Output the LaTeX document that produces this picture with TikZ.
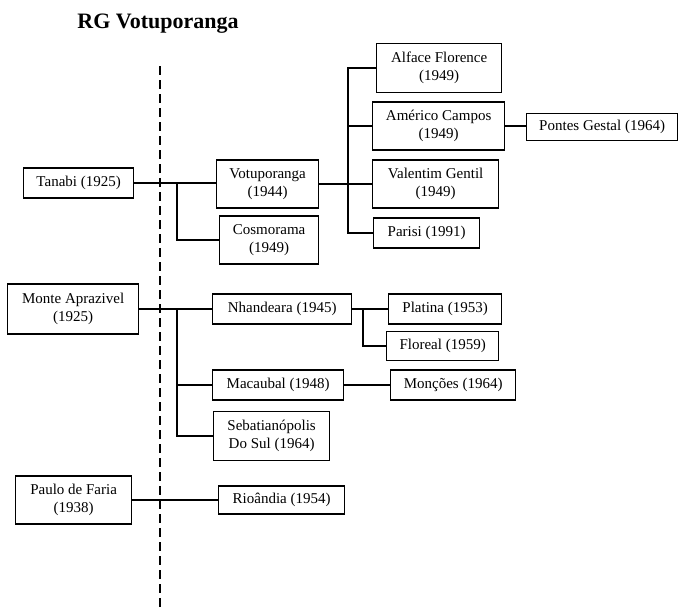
\documentclass[tikz,border=0pt]{standalone}
\usepackage{fontspec}
\setmainfont{Liberation Serif}
\usetikzlibrary{positioning,calc}

\tikzset{
  town/.style={draw, line width=1.3pt, align=center, inner sep=0pt, anchor=west,
    font=\fontsize{15}{18}\selectfont},
  link/.style={line width=1.1pt},
}

\begin{document}
\begin{tikzpicture}[x=1pt,y=-1pt]
\useasboundingbox (0,0) rectangle (678,608);

\node[font=\bfseries\fontsize{22}{26}\selectfont] (title) at (158,24) {RG Votuporanga};

% divide
\draw[line width=1.4pt, dash pattern=on 9pt off 5pt] (160,66) -- (160,608);

% municipalities: name / left x / mid y / width / height / label
\foreach \n/\x/\y/\w/\h/\t in {
  tan/23/183/110/30/{Tanabi (1925)},
  vot/216/184/102/48/{Votuporanga\\(1944)},
  cos/219/240/99/48/{Cosmorama\\(1949)},
  alf/376/68/125/49/{Alface Florence\\(1949)},
  ame/372/126/132/48/{Américo Campos\\(1949)},
  pon/526/127/151/27/{Pontes Gestal (1964)},
  val/372/184/126/48/{Valentim Gentil\\(1949)},
  par/373/233/106/30/{Parisi (1991)},
  mon/7/309/131/50/{Monte Aprazivel\\(1925)},
  nha/212/309/139/30/{Nhandeara (1945)},
  pla/388/309/113/30/{Platina (1953)},
  flo/386/346/112/29/{Floreal (1959)},
  mac/212/385/131/30/{Macaubal (1948)},
  mcs/390/385/125/30/{Monções (1964)},
  seb/213/436/116/49/{Sebatianópolis\\Do Sul (1964)},
  pau/15/500/116/48/{Paulo de Faria\\(1938)},
  rio/218/500/126/28/{Rioândia (1954)}}
  \node[town, minimum width=\w pt, minimum height=\h pt] (\n) at (\x,\y) {\t};

% Tanabi
\coordinate (b1) at (177,183);
\draw[link] (tan.east) -- (tan.east -| vot.west);
\draw[link] (tan.east -| b1) |- (cos.west);

\coordinate (b2) at (348,184);
\draw[link] (vot.east) -- (b2);
\draw[link] (alf.west) -| (b2) |- (par.west);
\draw[link] (b2 |- ame.west) -- (ame.west);
\draw[link] (b2) -- (val.west);
\draw[link] (ame.east) -- (ame.east -| pon.west);

% Monte Aprazivel
\coordinate (b3) at (177,309);
\draw[link] (mon.east) -- (nha.west);
\draw[link] (b3) |- (seb.west);
\draw[link] (b3 |- mac.west) -- (mac.west);

\coordinate (b4) at (363,309);
\draw[link] (nha.east) -- (pla.west);
\draw[link] (b4) |- (flo.west);
\draw[link] (mac.east) -- (mcs.west);

% Paulo de Faria
\draw[link] (pau.east) -- (rio.west);

\end{tikzpicture}
\end{document}
